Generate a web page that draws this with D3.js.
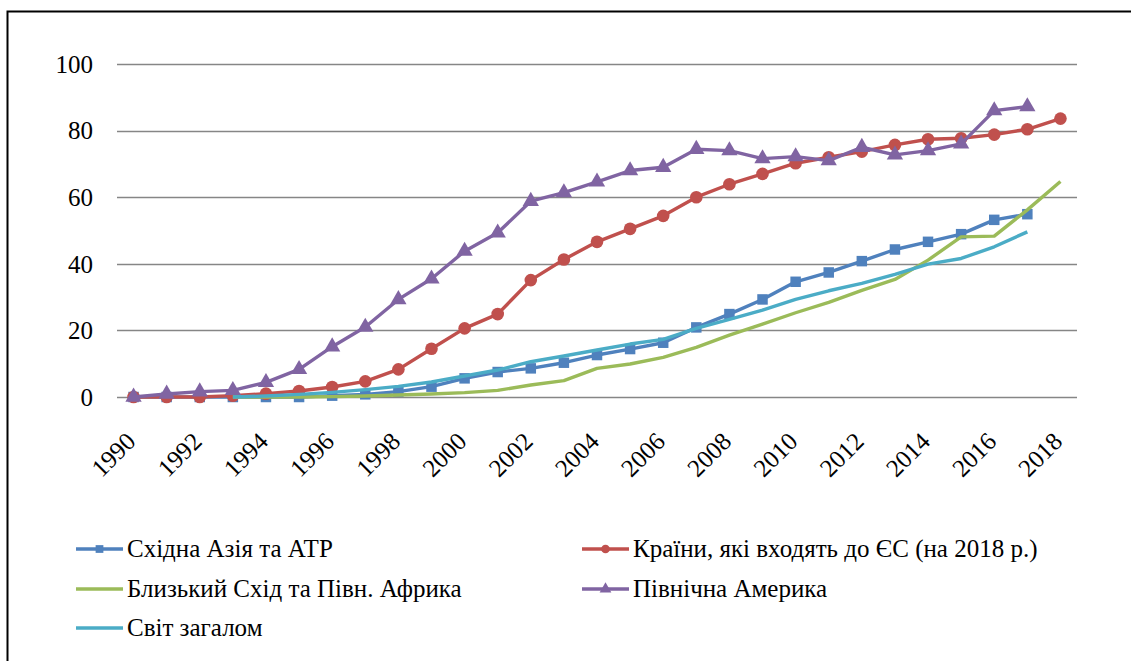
<!DOCTYPE html>
<html>
<head>
<meta charset="utf-8">
<script src="https://cdn.jsdelivr.net/npm/d3@7"></script>
<style>
  body { margin: 0; background: #fff; }
</style>
</head>
<body>
<svg id="chart" width="1131" height="661"></svg>
<script>
const years = d3.range(1990, 2019);
const yTicks = [0, 20, 40, 60, 80, 100];
const xTicks = years.filter((y) => y % 2 === 0);

// null = no value for that year
const eastAsia = [0, 0, 0, 0, 0, 0, 0.4, 0.8, 1.6, 3.1, 5.6, 7.5, 8.6, 10.3, 12.6, 14.4, 16.3, 20.9, 24.9, 29.3, 34.6, 37.4, 40.8, 44.3, 46.6, 48.9, 53.2, 54.9, null];
const eu = [0, 0, 0, 0.4, 1.0, 1.8, 3.0, 4.7, 8.3, 14.5, 20.6, 24.9, 35.1, 41.3, 46.6, 50.5, 54.4, 60.0, 63.9, 67.0, 70.2, 72.0, 73.7, 75.7, 77.4, 77.7, 78.8, 80.4, 83.6];
const middleEast = [null, null, null, 0, 0, 0, 0.1, 0.3, 0.6, 0.9, 1.3, 2.0, 3.6, 4.9, 8.6, 9.9, 11.9, 14.9, 18.6, 21.9, 25.3, 28.4, 32.0, 35.3, 41.1, 48.1, 48.3, 56.2, 64.7];
const northAmerica = [0, 0.9, 1.6, 2.0, 4.4, 8.3, 15.1, 21.0, 29.3, 35.5, 43.8, 49.3, 58.8, 61.4, 64.6, 68.0, 69.0, 74.4, 74.0, 71.6, 72.2, 71.0, 75.0, 72.7, 74.0, 76.0, 86.0, 87.2, null];
const world = [null, null, null, 0, 0.3, 0.8, 1.4, 2.2, 3.2, 4.5, 6.3, 8.1, 10.6, 12.3, 14.1, 15.9, 17.3, 20.6, 23.3, 26.1, 29.3, 31.9, 34.1, 36.8, 39.9, 41.6, 45.1, 49.6, null];

const series = [
  {name: 'Східна Азія та АТР', values: eastAsia, color: '#4f81bd', marker: 'square'},
  {name: 'Країни, які входять до ЄС (на 2018 р.)', values: eu, color: '#c0504d', marker: 'circle'},
  {name: 'Близький Схід та Півн. Африка', values: middleEast, color: '#9bbb59', marker: null},
  {name: 'Північна Америка', values: northAmerica, color: '#8064a2', marker: 'triangle'},
  {name: 'Світ загалом', values: world, color: '#4bacc6', marker: null},
];

const FONT = 'Liberation Serif, DejaVu Serif, serif';
const svg = d3.select('#chart');

// outer frame (left + top only visible)
svg.append('path')
  .attr('d', 'M7.5,661 V11.5 H1131')
  .attr('fill', 'none')
  .attr('stroke', '#000')
  .attr('stroke-width', 2);

const x = d3.scalePoint().domain(years).range([117, 1077]).padding(0.5);
const y = d3.scaleLinear().domain([0, 100]).range([397, 64]);

// gridlines
svg.append('g')
  .selectAll('line')
  .data(yTicks)
  .join('line')
  .attr('x1', 117)
  .attr('x2', 1077)
  .attr('y1', (d) => Math.round(y(d)) + 0.5)
  .attr('y2', (d) => Math.round(y(d)) + 0.5)
  .attr('stroke', '#868686')
  .attr('stroke-width', 1.3);

// y labels
const yAxis = svg.append('g')
  .attr('transform', 'translate(117,0)')
  .call(d3.axisLeft(y).tickValues(yTicks).tickSize(0).tickPadding(24));
yAxis.select('.domain').remove();
yAxis.attr('font-family', FONT).attr('font-size', 25);
yAxis.selectAll('text')
  .attr('fill', '#000')
  .attr('dy', '0.33em');

// x labels
const xAxis = svg.append('g')
  .attr('transform', 'translate(0,397)')
  .call(d3.axisBottom(x).tickValues(xTicks).tickSize(0).tickPadding(0));
xAxis.select('.domain').remove();
xAxis.attr('font-family', FONT).attr('font-size', 25);
xAxis.selectAll('text')
  .attr('fill', '#000')
  .attr('text-anchor', 'end')
  .attr('dy', 0)
  .attr('transform', 'translate(3,46) rotate(-45)');

const line = d3.line()
  .defined((d) => d != null)
  .x((d, i) => x(years[i]))
  .y((d) => y(d));

const symbols = {
  square: d3.symbol().type(d3.symbolSquare).size(110),
  circle: d3.symbol().type(d3.symbolCircle).size(125),
  triangle: d3.symbol().type(d3.symbolTriangle).size(115),
};

series.forEach((s) => {
  const g = svg.append('g');
  g.append('path')
    .attr('d', line(s.values))
    .attr('fill', 'none')
    .attr('stroke', s.color)
    .attr('stroke-width', 3.4)
    .attr('stroke-linejoin', 'round');
  if (s.marker) {
    g.selectAll('path.mk')
      .data(s.values.map((v, i) => [years[i], v]).filter((d) => d[1] != null))
      .join('path')
      .attr('class', 'mk')
      .attr('d', symbols[s.marker])
      .attr('transform', (d) => `translate(${x(d[0])},${y(d[1])})`)
      .attr('fill', s.color);
  }
});

// legend
const legendPos = [[76, 549], [582, 549], [76, 589], [582, 589], [76, 628]];
const legend = svg.append('g')
  .attr('font-family', FONT)
  .attr('font-size', 25)
  .selectAll('g')
  .data(series)
  .join('g')
  .attr('transform', (d, i) => `translate(${legendPos[i][0]},${legendPos[i][1]})`);

legend.append('line')
  .attr('x1', 0)
  .attr('x2', 47)
  .attr('stroke', (d) => d.color)
  .attr('stroke-width', 3.4);
legend.filter((d) => d.marker)
  .append('path')
  .attr('d', (d) => d3.symbol().type(
    d.marker === 'square' ? d3.symbolSquare : d.marker === 'circle' ? d3.symbolCircle : d3.symbolTriangle
  ).size(60)())
  .attr('transform', 'translate(23.5,0)')
  .attr('fill', (d) => d.color);
legend.append('text')
  .attr('x', 51)
  .attr('dy', '0.33em')
  .attr('fill', '#000')
  .text((d) => d.name);
</script>
</body>
</html>
